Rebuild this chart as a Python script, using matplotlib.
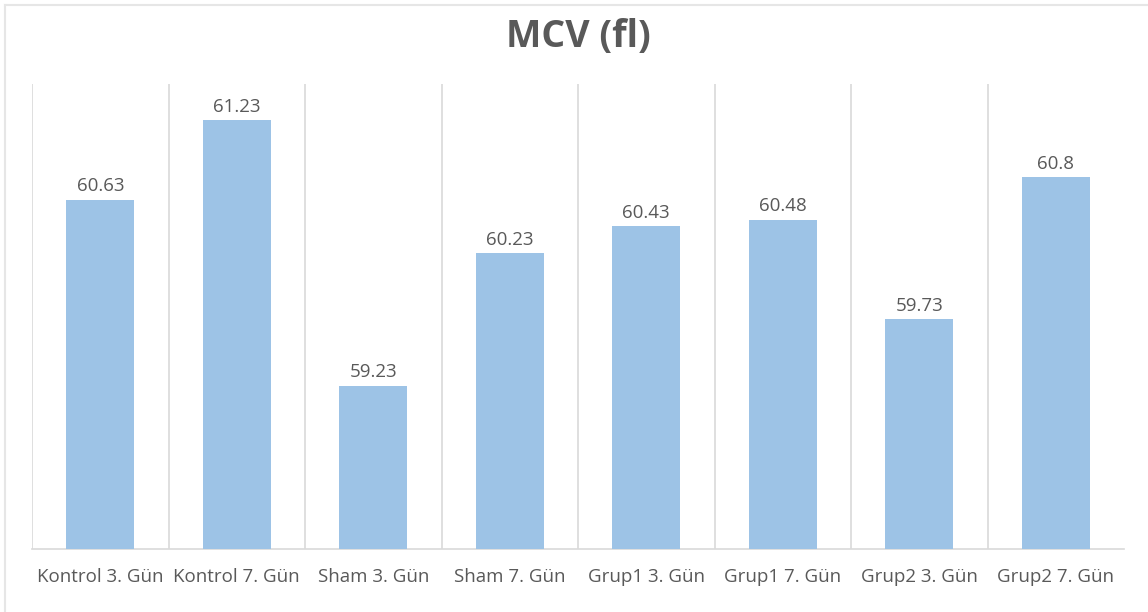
import numpy as np
import matplotlib
matplotlib.use("Agg")
import matplotlib.pyplot as plt
from matplotlib.lines import Line2D

# chart data
categories = ["Kontrol 3. Gün", "Kontrol 7. Gün", "Sham 3. Gün", "Sham 7. Gün",
              "Grup1 3. Gün", "Grup1 7. Gün", "Grup2 3. Gün", "Grup2 7. Gün"]
mcv_values = [60.63, 61.23, 59.23, 60.23, 60.43, 60.48, 59.73, 60.8]
value_labels = ["60.63", "61.23", "59.23", "60.23", "60.43", "60.48", "59.73", "60.8"]
y_min, y_max = 58.0, 61.5

plt.rcParams['font.family'] = ['Open Sans', 'DejaVu Sans']
text_grey = '#595959'
grid_grey = '#D9D9D9'
bar_blue = '#9DC3E6'

W, H = 1148, 612
fig = plt.figure(figsize=(W / 100, H / 100), dpi=100)

# plot area (pixels): x 32..1124, y 84..549
left, right, top, bottom = 32, 1124, 84, 549
ax = fig.add_axes([left / W, (H - bottom) / H, (right - left) / W, (bottom - top) / H])

x = np.arange(len(categories))
ax.bar(x, [v - y_min for v in mcv_values], bottom=y_min, width=0.5,
       color=bar_blue, zorder=3)
ax.set_xlim(-0.5, len(categories) - 0.5)
ax.set_ylim(y_min, y_max)

# vertical separators between categories
for b in np.arange(-0.5, len(categories) - 0.5, 1.0):
    ax.axvline(b, color=grid_grey, lw=1.2, zorder=1)

for xi, v, lab in zip(x, mcv_values, value_labels):
    ax.annotate(lab, (xi, v), xytext=(0, 3), textcoords='offset points',
                ha='center', va='bottom', fontsize=13.5, color=text_grey)

for s in ['top', 'right', 'left']:
    ax.spines[s].set_visible(False)
ax.spines['bottom'].set_color(grid_grey)
ax.spines['bottom'].set_linewidth(1.2)
ax.set_yticks([])
ax.set_xticks(x)
ax.set_xticklabels(categories, fontsize=13.5, color=text_grey)
ax.tick_params(axis='x', length=0, pad=14)

fig.text(578 / W, 1 - 37 / H, "MCV (fl)", ha='center', va='center',
         fontsize=27, fontweight='bold', color=text_grey)

# light chart border
fig.add_artist(Line2D([5 / W, 5 / W], [0, 1 - 5 / H], color='#E6E6E6', lw=1.5,
                      transform=fig.transFigure))
fig.add_artist(Line2D([5 / W, 1], [1 - 5 / H, 1 - 5 / H], color='#E6E6E6', lw=1.5,
                      transform=fig.transFigure))

fig.savefig("out.png", dpi=100)
